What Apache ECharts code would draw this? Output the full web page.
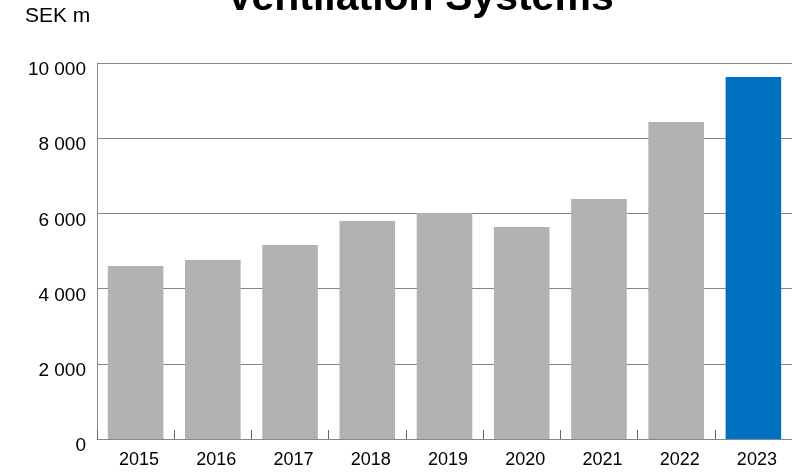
<!DOCTYPE html>
<html>
<head>
<meta charset="utf-8">
<script src="https://cdn.jsdelivr.net/npm/echarts@6/dist/echarts.min.js"></script>
<style>
  html, body { margin: 0; padding: 0; background: #fff; }
  #chart { width: 792px; height: 472px; }
</style>
</head>
<body>
<div id="chart"></div>
<script>
// 数据
const years = ['2015', '2016', '2017', '2018', '2019', '2020', '2021', '2022', '2023']
const sales = [4600, 4760, 5160, 5800, 6010, 5640, 6380, 8430, 9630]
const yTicks = [0, 2000, 4000, 6000, 8000, 10000]

const grey = '#b2b2b2'
const blue = '#0070c0'
const lineGrey = '#868686'

const chart = echarts.init(document.getElementById('chart'))

chart.setOption({
  animation: false,
  textStyle: { fontFamily: 'Liberation Sans, Arial, sans-serif' },
  title: {
    text: 'Ventilation Systems',
    left: 420,
    textAlign: 'center',
    top: -22,
    padding: 0,
    textStyle: { fontSize: 41, fontWeight: 'bold', color: '#000' }
  },
  graphic: [{
    type: 'text',
    left: 25,
    top: 6,
    style: {
      text: 'SEK m',
      font: '21px "Liberation Sans", Arial, sans-serif',
      fill: '#000'
    }
  }],
  grid: {
    left: 97,
    top: 63,
    width: 700,
    height: 376
  },
  xAxis: {
    type: 'category',
    data: years,
    boundaryGap: true,
    axisLine: { show: true, lineStyle: { color: lineGrey, width: 1 } },
    axisTick: {
      show: true,
      inside: true,
      length: 9,
      interval: 0,
      alignWithLabel: false,
      lineStyle: { color: '#666', width: 1 }
    },
    axisLabel: { color: '#000', fontSize: 18, margin: 12, padding: [0, 0, 0, 7] }
  },
  yAxis: {
    type: 'value',
    min: yTicks[0],
    max: yTicks[yTicks.length - 1],
    interval: 2000,
    axisLine: { show: true, lineStyle: { color: lineGrey, width: 1 } },
    axisTick: { show: false },
    splitLine: { lineStyle: { color: lineGrey, width: 1 } },
    axisLabel: {
      color: '#000',
      fontSize: 19,
      margin: 11,
      verticalAlign: 'top',
      lineHeight: 14,
      formatter: v => String(v).replace(/\B(?=(\d{3})+(?!\d))/g, ' ')
    }
  },
  series: [{
    type: 'bar',
    barCategoryGap: '28%',
    z: 3,
    data: sales.map((v, i) => ({
      value: v,
      itemStyle: { color: i === sales.length - 1 ? blue : grey }
    }))
  }]
})
</script>
</body>
</html>
